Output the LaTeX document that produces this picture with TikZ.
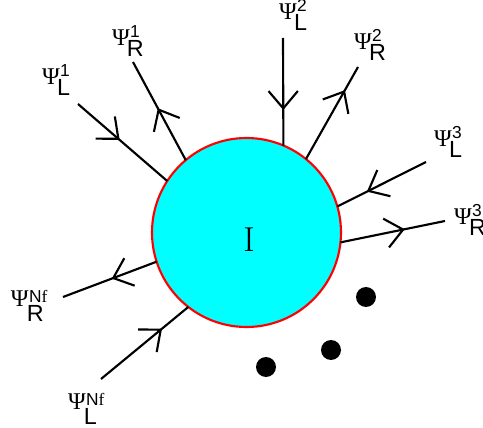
\documentclass[tikz,border=0pt]{standalone}
\usepackage{fontspec}
\newfontfamily\serf{Liberation Serif}
\newfontfamily\sanf{Liberation Sans}
\usetikzlibrary{arrows.meta,decorations.markings}
\definecolor{cy}{RGB}{0,255,255}
\definecolor{rd}{RGB}{255,0,0}
\newdimen\px \px=0.75pt
\newcommand\psisym{{\serf\fontsize{18pt}{18pt}\selectfont Ψ}}
\newcommand\lbl[2]{\makebox[15\px][l]{\psisym}\rlap{\raisebox{-11\px}{\sanf\fontsize{17.5pt}{17.5pt}\selectfont #1}}\hspace{3\px}\raisebox{8\px}{\sanf\fontsize{13pt}{13pt}\selectfont #2}}
\newcommand\lblN[1]{\makebox[16\px][l]{\psisym}\rlap{\raisebox{-15\px}{\sanf\fontsize{17.5pt}{17.5pt}\selectfont #1}}\hspace{2\px}\raisebox{3\px}{\sanf\fontsize{13pt}{13pt}\selectfont N{\serf f}}}
\tikzset{
  lbl/.style={anchor=base west, inner sep=0pt, outer sep=0pt},
  fline/.style={line width=1.6pt, black},
  mid/.style={postaction={decorate}, decoration={markings, mark=at position #1 with {\arrow{Straight Barb[length=13pt,width=22pt,line width=1.6pt]}}}},
  blob/.style={circle, draw=rd, line width=1.6pt, fill=cy, minimum size=189\px, inner sep=0pt, outer sep=0pt},
  dotn/.style={circle, fill=black, minimum size=20\px, inner sep=0pt}
}
\begin{document}
\begin{tikzpicture}[x=0.75pt, y=-0.75pt]
\useasboundingbox (0,0) rectangle (483,428);
\node[blob] (I) at (246.5,232.5) {};
\node[inner sep=0pt, font=\fontsize{26pt}{26pt}\selectfont] (Ilab) at (249,240) {I};
\coordinate (oL1) at (78,104);
\coordinate (oR1) at (133,62);
\coordinate (oL2) at (283,38);
\coordinate (oR2) at (358,67);
\coordinate (oL3) at (426,162);
\coordinate (oR3) at (445,221);
\coordinate (oRN) at (63,297);
\coordinate (oLN) at (101,379);
\draw[fline, mid=0.467] (oL1) -- (I.147.2);
\draw[fline, mid=0.53] (I.130) -- (oR1);
\draw[fline, mid=0.67] (oL2) -- (I.67.3);
\draw[fline, mid=0.75] (I.51.4) -- (oR2);
\draw[fline, mid=0.667] (oL3) -- (I.16);
\draw[fline, mid=0.615] (I.-6.9) -- (oR3);
\draw[fline, mid=0.48] (I.198.6) -- (oRN);
\draw[fline, mid=0.70] (oLN) -- (I.232.6);
\node[lbl] (tL1) at (42,85) {\lbl{L}{1}};
\node[lbl] (tR1) at (112,46) {\lbl{R}{1}};
\node[lbl] (tL2) at (279,20) {\lbl{L}{2}};
\node[lbl] (tR2) at (354,50) {\lbl{R}{2}};
\node[lbl] (tL3) at (434,147) {\lbl{L}{3}};
\node[lbl] (tR3) at (454,225) {\lbl{R}{3}};
\node[lbl] (tRN) at (11,306) {\lblN{R}};
\node[lbl] (tLN) at (68,409) {\lblN{L}};
\node[dotn] (d1) at (366,297) {};
\node[dotn] (d2) at (331,350) {};
\node[dotn] (d3) at (266,367) {};
\end{tikzpicture}
\end{document}
